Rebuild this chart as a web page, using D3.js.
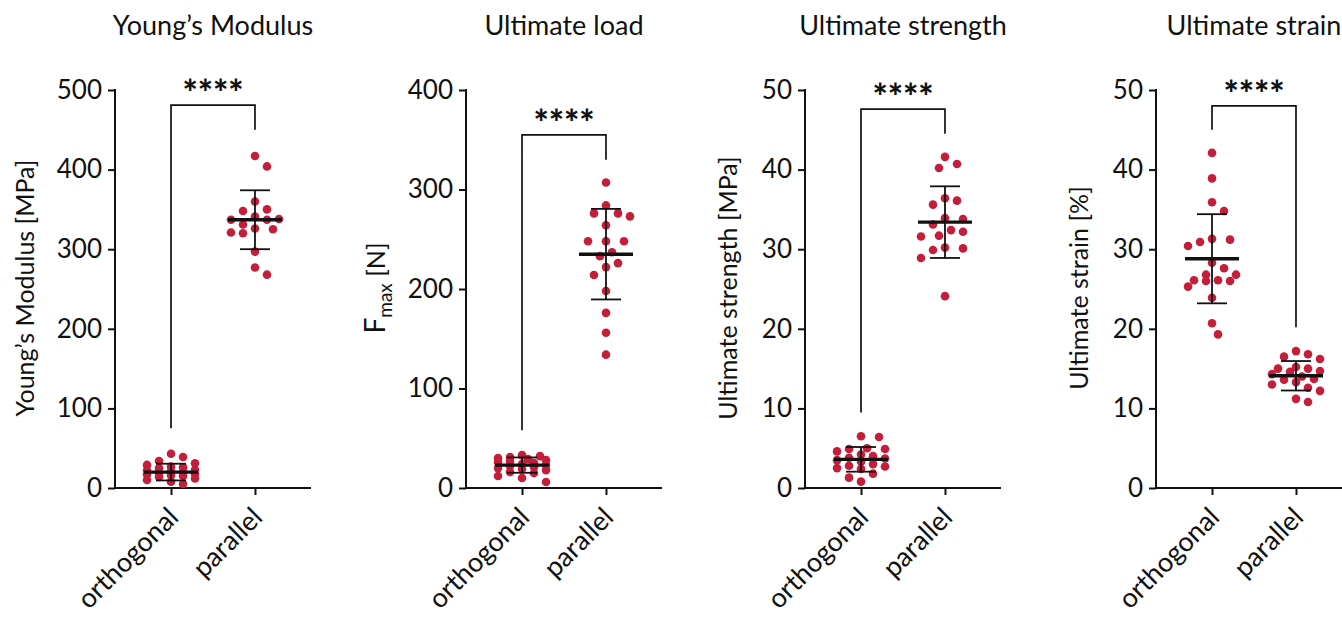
<!DOCTYPE html>
<html>
<head>
<meta charset="utf-8">
<script src="https://cdn.jsdelivr.net/npm/d3@7/dist/d3.min.js"></script>
<style>
  body { margin: 0; background: #fff; }
  text { font-family: Lato, "Open Sans", sans-serif; fill: #111; }
</style>
</head>
<body>
<svg id="chart" width="1342" height="619"></svg>
<script>
// categories and labels
var groups = ["orthogonal", "parallel"];
var titles = ["Young\u2019s Modulus", "Ultimate load", "Ultimate strength", "Ultimate strain"];
var yLabels = ["Young\u2019s Modulus [MPa]", "F|max| [N]", "Ultimate strength [MPa]", "Ultimate strain [%]"];
var yMax = [500, 400, 50, 50];
var yTickStep = [100, 100, 10, 10];
var stars = ["****", "****", "****", "****"];

var youngOrth = [43, 39, 34, 31, 29, 27, 26, 25, 23, 22, 21, 20, 19, 18, 17, 16, 15, 14, 12, 10, 8, 5];
var youngPar = [417, 404, 360, 350, 348, 341, 338, 337, 337, 331, 326, 325, 321, 320, 297, 277, 268];
var loadOrth = [33, 32, 31, 30, 29, 28, 27, 26, 25, 24, 23, 22, 21, 20, 19, 18, 16, 15, 12, 10, 6];
var loadPar = [307, 284, 276, 276, 273, 264, 248, 248, 248, 237, 233, 226, 222, 214, 198, 176, 156, 134];
var strengthOrth = [6.5, 6.4, 5.0, 4.9, 4.9, 4.6, 4.2, 4.0, 3.8, 3.7, 3.5, 3.3, 3.0, 2.8, 2.7, 2.5, 2.4, 1.8, 1.3, 0.8];
var strengthPar = [41.6, 40.7, 40.2, 36.4, 36.1, 35.6, 33.9, 33.8, 33.1, 32.4, 32.2, 31.7, 31.6, 30.2, 30.1, 29.9, 28.9, 24.1];
var strainOrth = [42.1, 38.9, 35.9, 34.8, 31.3, 31.2, 30.9, 30.4, 28.3, 27.6, 26.8, 26.8, 26.1, 26.1, 26.0, 26.0, 25.3, 23.9, 20.7, 19.3];
var strainPar = [17.2, 16.8, 16.5, 16.2, 15.2, 15.0, 15.0, 14.7, 14.6, 14.3, 14.0, 13.7, 13.6, 13.3, 13.0, 12.6, 12.2, 11.2, 10.8];

// mean and SD per group [orthogonal, parallel]
var means = [[20, 337], [23, 235], [3.6, 33.4], [28.8, 14.1]];
var sds = [[10.5, 37], [7.7, 45.5], [1.55, 4.5], [5.6, 1.85]];

// significance bracket: [left end, right end, top]
var brackets = [[75, 450, 481], [58, 330, 355], [9.5, 44.5, 47.6], [45, 20.2, 48]];

var series = [[youngOrth, youngPar], [loadOrth, loadPar], [strengthOrth, strengthPar], [strainOrth, strainPar]];

var svg = d3.select("#chart");
var axisX = [115, 466, 805, 1156];
var panelW = 196;
var plotTop = 90, plotBottom = 488;
var dotR = 4.3;
var red = "#c41e3a";

// simple beeswarm: nearest free slot to the centre, else least overlap
function swarm(ys, r, maxOff) {
    var step = 6, minD = 2 * r + 3.5;
    var placed = [];
    var out = new Array(ys.length);
    var order = ys.map(function(y, i) { return i; }).sort(function(a, b) { return ys[a] - ys[b]; });
    order.forEach(function(i) {
        var best = 0, bestScore = Infinity;
        for (var k = 0; k <= 2 * Math.floor(maxOff / step); k++) {
            var off = (k % 2 ? 1 : -1) * Math.ceil(k / 2) * step;
            var overlap = 0;
            placed.forEach(function(p) {
                var d = Math.hypot(p.x - off, p.y - ys[i]);
                if (d < minD) overlap += minD - d;
            });
            if (overlap === 0) { best = off; break; }
            if (overlap < bestScore) { bestScore = overlap; best = off; }
        }
        placed.push({x: best, y: ys[i]});
        out[i] = best;
    });
    return out;
}

series.forEach(function(s, pi) {
    var x0 = axisX[pi];
    var g = svg.append("g");

    var x = d3.scalePoint().domain(groups).range([x0, x0 + panelW]).padding(0.667);
    var y = d3.scaleLinear().domain([0, yMax[pi]]).range([plotBottom, plotTop]);

    // axes
    var yAxis = d3.axisLeft(y).tickValues(d3.range(0, yMax[pi] + 1, yTickStep[pi])).tickSize(7).tickPadding(6);
    var ya = g.append("g").attr("transform", "translate(" + x0 + ",0)").call(yAxis);
    var xAxis = d3.axisBottom(x).tickSize(7).tickFormat("");
    var xa = g.append("g").attr("transform", "translate(0," + plotBottom + ")").call(xAxis);
    [ya, xa].forEach(function(a) {
        a.select(".domain").attr("stroke", "#111").attr("stroke-width", 2);
        a.selectAll(".tick line").attr("stroke", "#111").attr("stroke-width", 2);
    });
    ya.select(".domain").attr("d", "M0," + (plotTop - 1) + "V" + (plotBottom + 1));
    xa.select(".domain").attr("d", "M" + (x0 - 1) + ",0H" + (x0 + panelW));
    ya.selectAll(".tick text").style("font-family", "Lato, sans-serif").style("font-size", "26px").attr("fill", "#111");

    // category labels
    g.selectAll(".cat").data(groups).enter().append("text")
        .attr("class", "cat")
        .attr("text-anchor", "end")
        .attr("transform", function(d) { return "translate(" + (x(d) + 9) + "," + (plotBottom + 31) + ") rotate(-45)"; })
        .style("font-size", "27px")
        .text(function(d) { return d; });

    // title
    g.append("text")
        .attr("x", x0 + 98).attr("y", 35)
        .attr("text-anchor", "middle")
        .style("font-size", "27px")
        .text(titles[pi]);

    // y label (with optional subscript in |...|)
    var parts = yLabels[pi].split("|");
    var yl = g.append("text")
        .attr("transform", "translate(" + (x0 - (pi < 2 ? 81 : 68)) + "," + ((plotTop + plotBottom) / 2 - 1) + ") rotate(-90)")
        .attr("text-anchor", "middle")
        .style("font-size", "25px");
    yl.append("tspan").text(parts[0]);
    if (parts.length > 1) {
        yl.select("tspan").style("font-size", "28px");
        yl.append("tspan").attr("dy", "0.35em").style("font-size", "19px").text(parts[1]);
        yl.append("tspan").attr("dy", "-0.25em").text(parts[2]);
    }

    // dots
    s.forEach(function(vals, gi) {
        var ys = vals.map(function(v) { return y(v); });
        var offs = swarm(ys, dotR, 26);
        g.selectAll(".dot" + gi).data(vals).enter().append("circle")
            .attr("class", "dot" + gi)
            .attr("cx", function(d, i) { return x(groups[gi]) + offs[i]; })
            .attr("cy", function(d) { return y(d); })
            .attr("r", dotR)
            .attr("fill", red);
    });

    // mean and SD
    groups.forEach(function(c, gi) {
        var cx = x(c), m = means[pi][gi], sd = sds[pi][gi];
        g.append("line").attr("x1", cx).attr("x2", cx).attr("y1", y(m - sd)).attr("y2", y(m + sd))
            .attr("stroke", "#111").attr("stroke-width", 1.8);
        [m - sd, m + sd].forEach(function(v) {
            g.append("line").attr("x1", cx - 15).attr("x2", cx + 15).attr("y1", y(v)).attr("y2", y(v))
                .attr("stroke", "#111").attr("stroke-width", 1.8);
        });
        g.append("line").attr("x1", cx - 27).attr("x2", cx + 27).attr("y1", y(m)).attr("y2", y(m))
            .attr("stroke", "#111").attr("stroke-width", 3.4);
    });

    // bracket
    var b = brackets[pi];
    var xl = x(groups[0]), xr = x(groups[1]);
    g.append("path")
        .attr("d", "M" + xl + "," + y(b[0]) + "V" + y(b[2]) + "H" + xr + "V" + y(b[1]))
        .attr("fill", "none").attr("stroke", "#111").attr("stroke-width", 1.7);
    g.append("text")
        .attr("x", (xl + xr) / 2).attr("y", y(b[2]) + 1)
        .attr("text-anchor", "middle")
        .style("font-size", "36px").style("font-weight", "900")
        .text(stars[pi]);
});
</script>
</body>
</html>
